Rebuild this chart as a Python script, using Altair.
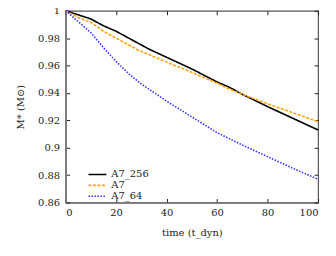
import altair as alt
import pandas as pd

t_256 = [0, 5, 10, 15, 20, 25, 29, 33, 40, 50, 60, 65, 70, 80, 90, 100]
v_256 = [1.0, 0.997, 0.994, 0.989, 0.985, 0.980, 0.976, 0.972, 0.966, 0.9575, 0.948, 0.944, 0.939, 0.930, 0.9215, 0.913]

t_7 = [0, 5, 10, 15, 20, 25, 29, 33, 40, 50, 60, 64, 70, 80, 90, 100]
v_7 = [1.0, 0.995, 0.9915, 0.985, 0.980, 0.975, 0.971, 0.968, 0.9625, 0.955, 0.947, 0.9435, 0.939, 0.932, 0.9255, 0.919]

t_64 = [0, 5, 10, 15, 20, 25, 30, 40, 50, 60, 70, 80, 90, 100]
v_64 = [1.0, 0.992, 0.984, 0.973, 0.963, 0.954, 0.9465, 0.934, 0.9225, 0.911, 0.902, 0.8935, 0.885, 0.877]

series = ["A7_256", "A7", "A7_64"]
colors = ["#000000", "#ffa500", "#3333ff"]
dashes = [[1, 0], [3, 1.5], [1.5, 1.5]]

x_ticks = [0, 20, 40, 60, 80, 100]
y_ticks = [0.86, 0.88, 0.9, 0.92, 0.94, 0.96, 0.98, 1.0]

rows = []
for name, ts, vs in [("A7_256", t_256, v_256), ("A7", t_7, v_7), ("A7_64", t_64, v_64)]:
    for t, v in zip(ts, vs):
        rows.append({"series": name, "t": t, "v": v})
df = pd.DataFrame(rows)

W, H = 254, 193
FONT = "DejaVu Serif"
INNER = {"expr": "-4"}

xscale = alt.Scale(domain=[0, 100], nice=False)
yscale = alt.Scale(domain=[0.86, 1.0], nice=False, zero=False)

lines = alt.Chart(df).mark_line(strokeWidth=1.6).encode(
    x=alt.X("t:Q", scale=xscale,
            axis=alt.Axis(values=x_ticks, tickSize=INNER, labelPadding=9, title="time (t_dyn)",
                          titlePadding=10, format="d", labelOverlap=False)),
    y=alt.Y("v:Q", scale=yscale,
            axis=alt.Axis(values=y_ticks, tickSize=INNER, labelPadding=10, title="M* (M⊙)",
                          titlePadding=12, labelOverlap=False,
                          labelExpr="datum.value == 1 ? '1' : format(datum.value, '.2~f')")),
    color=alt.Color("series:N", scale=alt.Scale(domain=series, range=colors),
                    legend=alt.Legend(orient="none", legendX=22, legendY=160, title=None,
                                      symbolType="stroke", symbolSize=324, clipHeight=9.5,
                                      rowPadding=0, labelFontSize=10,
                                      symbolStrokeWidth=1.6)),
    strokeDash=alt.StrokeDash("series:N", scale=alt.Scale(domain=series, range=dashes), legend=None),
)

xt = pd.DataFrame({"t": x_ticks})
yt = pd.DataFrame({"v": y_ticks})
top_axis = alt.Chart(xt).mark_tick(opacity=0).encode(
    x=alt.X("t:Q", scale=xscale,
            axis=alt.Axis(orient="top", values=x_ticks, tickSize=INNER, labels=False,
                          title=None, domain=False)))
right_axis = alt.Chart(yt).mark_tick(opacity=0).encode(
    y=alt.Y("v:Q", scale=yscale,
            axis=alt.Axis(orient="right", values=y_ticks, tickSize=INNER, labels=False,
                          title=None, domain=False)))

chart = alt.layer(lines, top_axis, right_axis).resolve_axis(
    x="independent", y="independent"
).properties(
    width=W, height=H,
    autosize=alt.AutoSizeParams(type="none"),
    padding={"left": 58, "top": 2, "right": 10, "bottom": 45},
).configure_view(stroke="#555555", strokeWidth=1.2).configure_axis(
    labelFont=FONT, titleFont=FONT, labelFontSize=10, titleFontSize=10,
    labelColor="#222222", titleColor="#222222", titleFontWeight="normal",
    domainColor="#777777", domainWidth=1.5, grid=False, labelOverlap=False,
    tickColor="#222222", tickWidth=1, zindex=1,
).configure_legend(labelFont=FONT, labelColor="#222222")

chart.save("out.html", embed_options={"renderer": "svg", "actions": False})
